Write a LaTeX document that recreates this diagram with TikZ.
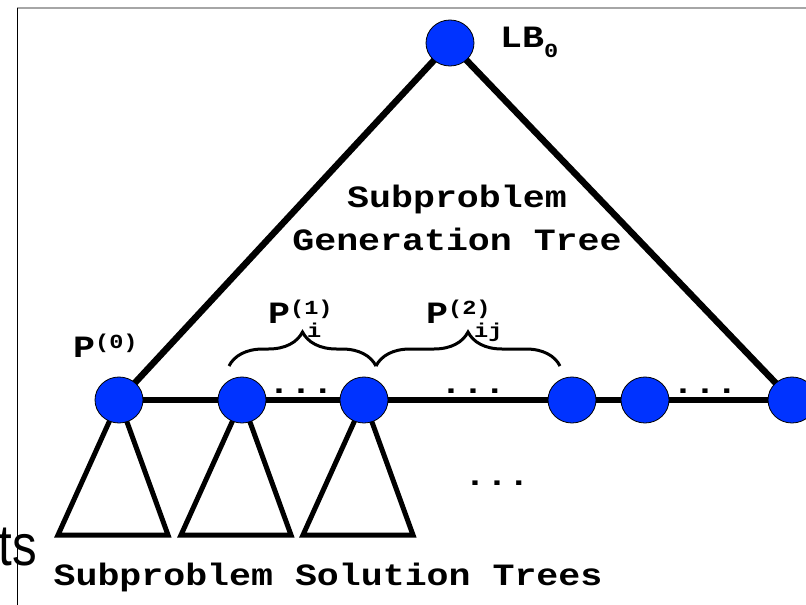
\documentclass[tikz,border=0pt]{standalone}
\usepackage{fontspec}
\usepackage{xcolor}
\usepackage{tikz}
\usetikzlibrary{arrows.meta, decorations.pathreplacing, positioning, calc, shapes, backgrounds}
\newfontfamily\courbf{Liberation Mono}[FakeStretch=1.18]
\newfontfamily\helvn{Liberation Sans}[FakeStretch=0.85]
\definecolor{nodeblue}{RGB}{0,51,255}
% indici e apici
\newcommand{\scr}{\fontsize{20}{20}\selectfont}
\newcommand{\apice}[1]{\raisebox{9pt}{\scr #1}}
\newcommand{\pedice}[2]{\raisebox{-14pt}{\scr\kern#1 #2}}

\begin{document}
\begin{tikzpicture}[x=1pt, y=-1pt,
    vert/.style={ellipse, draw=black, line width=0.8pt, fill=nodeblue,
        minimum width=48pt, minimum height=46pt, inner sep=0pt},
    edge/.style={line width=6.5pt},
    tri/.style={line width=5pt},
    brc/.style={decorate, decoration={brace, amplitude=34pt}, line width=3pt},
    lbl/.style={font=\courbf\bfseries\fontsize{31}{43}\selectfont, inner sep=0pt},
    dts/.style={lbl, anchor=base}]
    \useasboundingbox (0,0) rectangle (806,605);

    % Cornice
    \draw[gray!70, line width=1.5pt] (17,8) -- (806,8);
    \draw[line width=0.8pt] (17,8) -- (17,605);
    \node[font=\helvn\fontsize{58}{58}\selectfont, anchor=base east, inner sep=0pt] (frag) at (37,565) {ts};

    % Nodi
    \node[vert] (lb) at (450,43) {};
    \node[vert] (p0) at (119,400) {};
    \node[vert] (pi) at (242,400) {};
    \node[vert] (pk) at (364,400) {};
    \node[vert] (pj) at (572,400) {};
    \node[vert] (pm) at (645,400) {};
    \node[vert] (pn) at (792,400) {};

    % Albero di generazione e alberi di soluzione
    \begin{scope}[on background layer]
        \draw[edge] (lb.center) -- (p0.center);
        \draw[edge] (lb.center) -- (pn.center);
        \draw[edge] (p0.center) -- (pi.center) -- (pk.center) -- (pj.center) -- (pm.center) -- (pn.center);
        \foreach \n in {p0, pi, pk}{
            \draw[tri] (\n.center) -- ++(-61,135) -- ++(110,0) -- cycle;
        }
    \end{scope}

    % Parentesi graffe
    \coordinate (b0) at (229,366);
    \coordinate (b1) at (376,366);
    \coordinate (b2) at (560,366);
    \draw[brc] (b0) -- (b1);
    \draw[brc] (b1) -- (b2);

    % Puntini
    \node[dts] (d1) at (301,393) {...};
    \node[dts] (d2) at (473,393) {...};
    \node[dts] (d3) at (705,393) {...};
    \node[dts] (d4) at (497,485) {...};

    % Etichette
    \node[lbl, anchor=base west] (llb) at (500,47) {LB\raisebox{-10pt}{\scr 0}};
    \node[lbl, anchor=base west] (lp0) at (73,357) {P\apice{(0)}};
    \node[lbl, anchor=base west] (lp1) at (268,323) {P\rlap{\apice{(1)}}\pedice{17pt}{i}};
    \node[lbl, anchor=base west] (lp2) at (426,323) {P\rlap{\apice{(2)}}\pedice{26pt}{ij}};
    \node[lbl, align=center] (gen) at (457,218) {Subproblem\\Generation Tree};
    \node[lbl, anchor=base] (sol) at (328,585) {Subproblem Solution Trees};
\end{tikzpicture}
\end{document}
